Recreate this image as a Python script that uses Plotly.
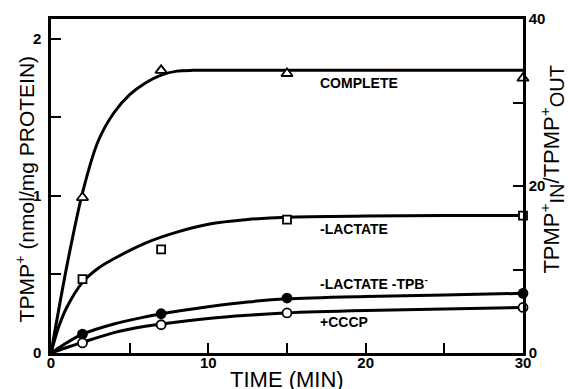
import plotly.graph_objects as go

# measured points (time in min, TPMP+ nmol/mg protein)
time_pts = [2, 7, 15, 30]
complete_pts = [0.99, 1.80, 1.78, 1.75]
lactate_pts = [0.47, 0.66, 0.85, 0.875]
tpb_pts = [0.12, 0.25, 0.35, 0.38]
cccp_pts = [0.064, 0.18, 0.255, 0.29]

# hand-drawn fitted curves
complete_curve_t = [0, 1, 2, 3, 4, 5, 6, 7, 8, 9, 10, 15, 20, 30]
complete_curve_y = [0, 0.55, 1.02, 1.35, 1.53, 1.645, 1.72, 1.77, 1.795, 1.80, 1.80, 1.80, 1.80, 1.80]
lactate_curve_t = [0, 0.5, 1, 2, 3, 4, 6, 8, 10, 12.5, 15, 20, 25, 30]
lactate_curve_y = [0, 0.17, 0.29, 0.45, 0.54, 0.60, 0.70, 0.77, 0.82, 0.85, 0.865, 0.872, 0.875, 0.875]
tpb_curve_t = [0, 1, 2, 4, 6, 7, 10, 12.5, 15, 20, 25, 30]
tpb_curve_y = [0, 0.065, 0.12, 0.185, 0.23, 0.25, 0.295, 0.325, 0.345, 0.36, 0.37, 0.38]
cccp_curve_t = [0, 1, 2, 4, 6, 7, 10, 12.5, 15, 20, 25, 30]
cccp_curve_y = [0, 0.035, 0.068, 0.13, 0.17, 0.185, 0.22, 0.24, 0.255, 0.27, 0.28, 0.29]

x_tickvals = [0, 5, 10, 15, 20, 25, 30]
x_ticktext = ["0", "", "10", "", "20", "", "30"]
y_tickvals = [0, 0.5, 1, 1.5, 2]
y_ticktext = ["0", "", "1", "", "2"]
y2_tickvals = [0, 10, 20, 30, 40]
y2_ticktext = ["0", "", "20", "", "40"]

labels = ["COMPLETE", "-LACTATE", "-LACTATE -TPB<sup>-</sup>", "+CCCP"]
label_y = [1.72, 0.79, 0.446, 0.197]

fig = go.Figure()
LW = 3
for t, y in [(complete_curve_t, complete_curve_y), (lactate_curve_t, lactate_curve_y),
             (tpb_curve_t, tpb_curve_y), (cccp_curve_t, cccp_curve_y)]:
    fig.add_trace(go.Scatter(x=t, y=y, mode="lines",
                             line=dict(color="black", width=LW, shape="spline", smoothing=0.8),
                             showlegend=False, hoverinfo="skip", cliponaxis=False))

mk = [
    (complete_pts, "triangle-up", 10, "white"),
    (lactate_pts, "square", 8, "white"),
    (tpb_pts, "circle", 9, "black"),
    (cccp_pts, "circle", 9, "white"),
]
for y, sym, sz, fill in mk:
    fig.add_trace(go.Scatter(x=time_pts, y=y, mode="markers",
                             marker=dict(symbol=sym, size=sz, color=fill,
                                         line=dict(color="black", width=1.8)),
                             showlegend=False, cliponaxis=False))

# invisible trace to activate right axis
fig.add_trace(go.Scatter(x=[0], y=[0], yaxis="y2", mode="markers", marker=dict(opacity=0),
                         showlegend=False, hoverinfo="skip"))

tickfont = dict(family="Liberation Sans", size=15, color="black")
common = dict(showgrid=False, zeroline=False, showline=True, linecolor="black", linewidth=2.5,
              ticks="inside", ticklen=10, tickwidth=2, tickcolor="black", tickfont=tickfont, automargin=False)
fig.update_layout(
    width=568, height=389,
    margin=dict(l=51, r=45, t=19, b=36),
    paper_bgcolor="white", plot_bgcolor="white",
    xaxis=dict(range=[0, 30], mirror=True, tickvals=x_tickvals,
               ticktext=["<b>%s</b>" % s if s else "" for s in x_ticktext], ticklabelstandoff=-6, **common),
    yaxis=dict(range=[0, 2.127], tickvals=y_tickvals,
               ticktext=["<b>%s</b>" % s if s else "" for s in y_ticktext], ticklabelstandoff=4, **common),
    yaxis2=dict(range=[0, 40], overlaying="y", side="right", tickvals=y2_tickvals,
                ticktext=["<b>%s</b>" % s if s else "" for s in y2_ticktext], **common),
)

for txt, yv in zip(labels, label_y):
    fig.add_annotation(x=16.95, y=yv, text="<b>%s</b>" % txt, showarrow=False, xanchor="left", yanchor="middle",
                       font=dict(family="Liberation Sans Narrow, Liberation Sans", size=14, color="black"))

fig.add_annotation(x=0.5, y=-0.08, xref="paper", yref="paper", text="TIME (MIN)", showarrow=False,
                   xanchor="center", yanchor="middle", font=dict(family="Liberation Sans", size=22, color="black"))
fig.add_annotation(x=-0.055, y=0.49, xref="paper", yref="paper", text="TPMP<sup>+</sup> (nmol/mg PROTEIN)",
                   showarrow=False, textangle=-90, xanchor="center", yanchor="middle",
                   font=dict(family="Liberation Sans", size=21, color="black"))
fig.add_annotation(x=1.062, y=0.55, xref="paper", yref="paper",
                   text=("TPMP<sup>+</sup><sub><span style='font-size:20px'>IN</span></sub>"
                         "/TPMP<sup>+</sup><sub><span style='font-size:20px'>OUT</span></sub>"),
                   showarrow=False, textangle=-90, xanchor="center", yanchor="middle",
                   font=dict(family="Liberation Sans", size=22, color="black"))

fig.write_html("out.html", config={"displayModeBar": False},
               post_script="document.body.style.margin='0';document.body.style.padding='0';")
